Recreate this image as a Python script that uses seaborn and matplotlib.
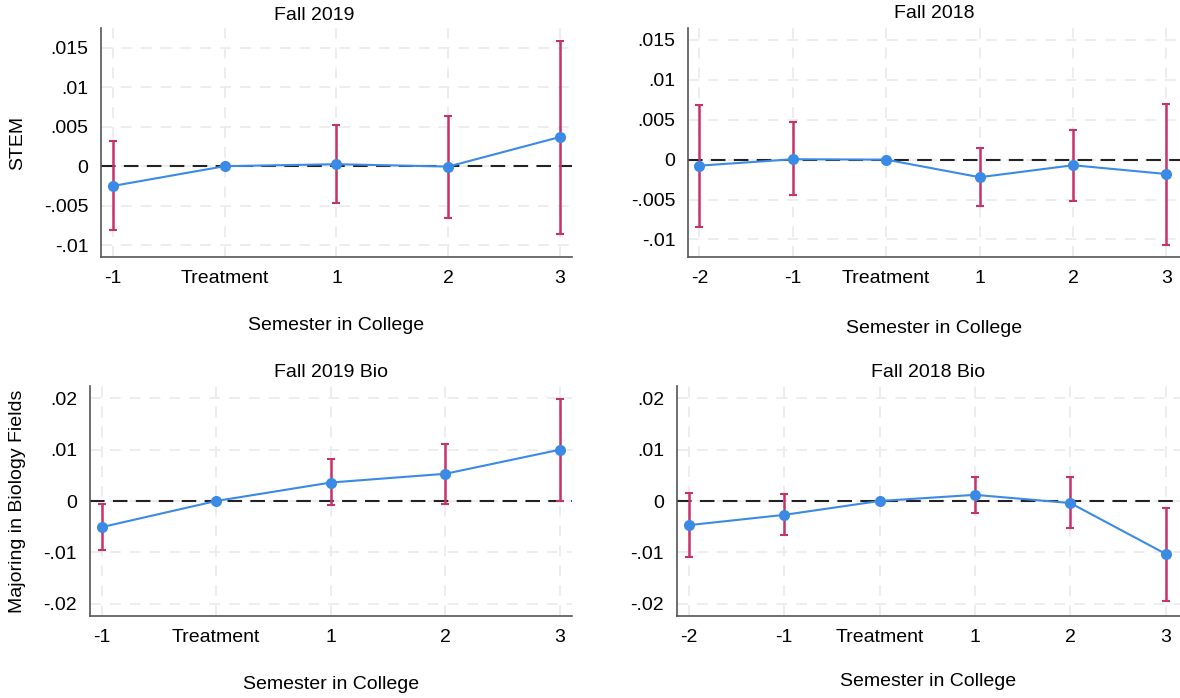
import numpy as np
import pandas as pd
import seaborn as sns
import matplotlib
matplotlib.use("Agg")
import matplotlib.pyplot as plt
from matplotlib.ticker import FuncFormatter

# Event-study estimates with 95% confidence bounds
labels_2019 = ["-1", "Treatment", "1", "2", "3"]
labels_2018 = ["-2", "-1", "Treatment", "1", "2", "3"]

stem_2019_est = [-0.0025, 0.0, 0.00025, -0.00005, 0.0037]
stem_2019_lo = [-0.0081, 0.0, -0.0047, -0.0066, -0.0086]
stem_2019_hi = [0.0032, 0.0, 0.0052, 0.0064, 0.0159]

stem_2018_est = [-0.00075, 0.00005, 0.0, -0.0022, -0.0007, -0.0018]
stem_2018_lo = [-0.0085, -0.0044, 0.0, -0.0058, -0.0052, -0.0107]
stem_2018_hi = [0.0068, 0.0047, 0.0, 0.0014, 0.0037, 0.0070]

bio_2019_est = [-0.0051, 0.0, 0.0036, 0.0053, 0.0100]
bio_2019_lo = [-0.0096, 0.0, -0.0008, -0.0006, 0.0000]
bio_2019_hi = [-0.0006, 0.0, 0.0081, 0.0111, 0.0199]

bio_2018_est = [-0.0047, -0.0027, 0.0, 0.0012, -0.0004, -0.0103]
bio_2018_lo = [-0.0110, -0.0066, 0.0, -0.0023, -0.0052, -0.0194]
bio_2018_hi = [0.0016, 0.0013, 0.0, 0.0047, 0.0046, -0.0014]

stem_ticks = [-0.01, -0.005, 0.0, 0.005, 0.01, 0.015]
bio_ticks = [-0.02, -0.01, 0.0, 0.01, 0.02]

sns.set_theme(style="white")
plt.rcParams["font.family"] = ["Liberation Sans", "DejaVu Sans"]
plt.rcParams["font.size"] = 14
plt.rcParams["text.color"] = "black"
plt.rcParams["axes.labelcolor"] = "black"

LINE_BLUE = "#3a8ae6"
CI_RED = "#c8326a"
SPINE = "#555555"
W, H = 1180, 698

fig = plt.figure(figsize=(W / 100, H / 100), dpi=100)


def px_axes(left, right, top, bottom):
    return fig.add_axes([left / W, 1 - bottom / H, (right - left) / W, (bottom - top) / H])


def fmt_tick(v, _pos):
    if abs(v) < 1e-12:
        return "0"
    s = f"{v:.3f}".rstrip("0")
    s = s.replace("0.", ".")
    return s


def panel(ax, labels, est, lo, hi, yticks, xlim, ylim, xlabel_pad):
    x = np.arange(len(labels))
    df = pd.DataFrame({"pos": x, "est": est})
    ax.set_xlim(*xlim)
    ax.set_ylim(*ylim)
    # light dashed grid on every tick
    for xv in x:
        ax.axvline(xv, color="#ececec", lw=1.3, ls=(0, (6, 5)), zorder=0)
    for yv in yticks:
        ax.axhline(yv, color="#ececec", lw=1.3, ls=(0, (6, 5)), zorder=0)
    ax.axhline(0, color="#222222", lw=1.5, ls=(0, (7, 4)), zorder=1)
    est_arr = np.array(est)
    ax.errorbar(x, est_arr, yerr=[est_arr - np.array(lo), np.array(hi) - est_arr],
                fmt="none", ecolor=CI_RED, elinewidth=1.8, capsize=3, capthick=1.5, zorder=2)
    sns.lineplot(data=df, x="pos", y="est", ax=ax, color=LINE_BLUE, lw=1.5,
                 marker="o", markersize=8, markeredgewidth=0, zorder=3)
    ax.set_xticks(x)
    ax.set_xticklabels(labels)
    ax.set_yticks(yticks)
    ax.yaxis.set_major_formatter(FuncFormatter(fmt_tick))
    ax.tick_params(axis="both", direction="out", length=5, width=1, color=SPINE,
                   labelsize=14, labelcolor="black", pad=4)
    for side in ["top", "right"]:
        ax.spines[side].set_visible(False)
    for side in ["left", "bottom"]:
        ax.spines[side].set_color(SPINE)
        ax.spines[side].set_linewidth(1.2)
    ax.set_ylabel("")
    ax.set_xlabel("Semester in College", fontsize=14, labelpad=xlabel_pad, color="black")


ax1 = px_axes(101, 572, 28, 257)
panel(ax1, labels_2019, stem_2019_est, stem_2019_lo, stem_2019_hi, stem_ticks,
      (-0.107, 4.107), (-0.0115, 0.0175), 22)
ax2 = px_axes(688, 1180, 28, 257)
panel(ax2, labels_2018, stem_2018_est, stem_2018_lo, stem_2018_hi, stem_ticks,
      (-0.123, 5.145), (-0.0122, 0.0165), 24)
ax3 = px_axes(89.5, 572, 386, 616)
panel(ax3, labels_2019, bio_2019_est, bio_2019_lo, bio_2019_hi, bio_ticks,
      (-0.105, 4.105), (-0.0224, 0.0224), 22)
ax4 = px_axes(676.5, 1180, 386, 616)
panel(ax4, labels_2018, bio_2018_est, bio_2018_lo, bio_2018_hi, bio_ticks,
      (-0.13, 5.15), (-0.0224, 0.0224), 20)

# panel titles
fig.text(314 / W, 1 - 15 / H, "Fall 2019", ha="center", va="center", fontsize=14)
fig.text(934 / W, 1 - 13 / H, "Fall 2018", ha="center", va="center", fontsize=14)
fig.text(331 / W, 1 - 372 / H, "Fall 2019 Bio", ha="center", va="center", fontsize=14)
fig.text(928 / W, 1 - 372 / H, "Fall 2018 Bio", ha="center", va="center", fontsize=14)

# y-axis titles
fig.text(18 / W, 1 - 143 / H, "STEM", rotation=90, ha="center", va="center", fontsize=14)
fig.text(18 / W, 1 - 501 / H, "Majoring in Biology Fields", rotation=90,
         ha="center", va="center", fontsize=14)

fig.savefig("out.png", dpi=100, facecolor="white")
